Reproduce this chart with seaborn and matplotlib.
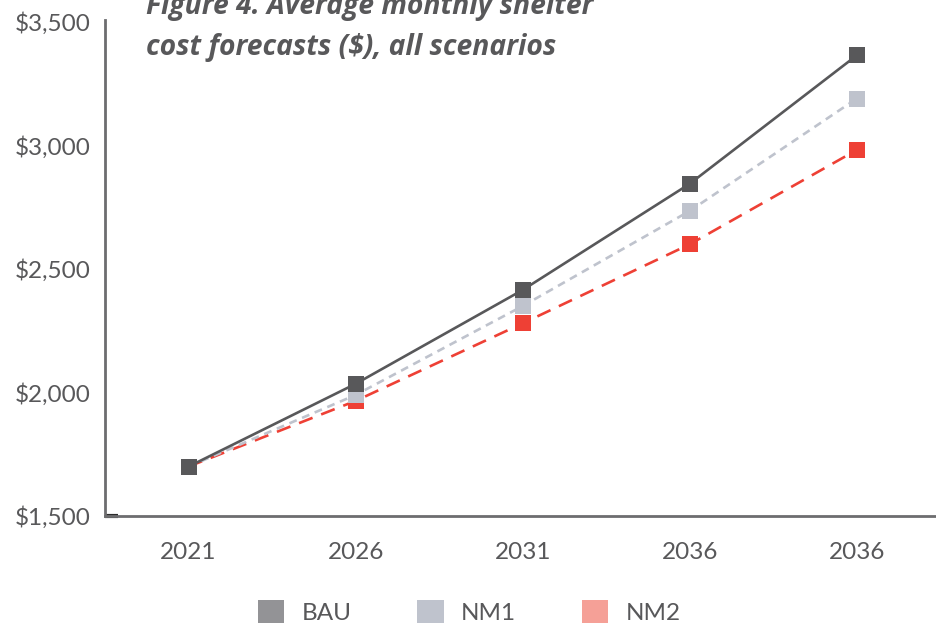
import matplotlib
matplotlib.use("Agg")
import matplotlib.pyplot as plt
from matplotlib.patches import Patch
import seaborn as sns
import pandas as pd

# Forecast years (the last label repeats as printed in the source figure)
years = ["2021", "2026", "2031", "2036", "2036"]
bau = [1700, 2035, 2415, 2845, 3365]
nm1 = [1700, 1990, 2350, 2735, 3190]
nm2 = [1700, 1966, 2280, 2600, 2982]
scenarios = ["BAU", "NM1", "NM2"]
y_ticks = [1500, 2000, 2500, 3000, 3500]
y_tick_labels = ["$1,500", "$2,000", "$2,500", "$3,000", "$3,500"]
title_lines = ["Figure 4. Average monthly shelter", "cost forecasts ($), all scenarios"]

line_colors = {"BAU": "#58585a", "NM1": "#bfc3cd", "NM2": "#ee4035"}
legend_colors = {"BAU": "#939396", "NM1": "#bfc3cd", "NM2": "#f5a097"}
text_color = "#58585a"

rows = []
for name, vals in zip(scenarios, [bau, nm1, nm2]):
    for i, v in enumerate(vals):
        rows.append({"pos": i, "cost": v, "scenario": name})
df = pd.DataFrame(rows)

sns.set_theme(style="white")
plt.rcParams["font.family"] = ["Lato", "DejaVu Sans"]

fig = plt.figure(figsize=(9.37, 6.26), dpi=100)
W, H = 937, 626
ax = fig.add_axes([105 / W, 1 - 516 / H, (W - 105) / W, (516 - 20) / H])

sns.lineplot(
    data=df, x="pos", y="cost", hue="scenario", style="scenario",
    hue_order=scenarios[::-1], style_order=scenarios[::-1],
    palette=line_colors,
    dashes={"BAU": "", "NM1": (3, 2.2), "NM2": (5.5, 3.5)},
    markers={"BAU": "s", "NM1": "s", "NM2": "s"},
    markersize=11.5, markeredgewidth=0, linewidth=1.9,
    legend=False, ax=ax,
)

ax.set_xlim(-0.5, 4.48)
ax.set_ylim(1500, 3508)
ax.set_xticks(range(len(years)))
ax.set_xticklabels(years)
ax.set_yticks(y_ticks)
ax.set_yticklabels(y_tick_labels)
ax.tick_params(axis="both", length=0, labelsize=17.5, colors=text_color)
ax.tick_params(axis="y", pad=10)
ax.tick_params(axis="x", pad=19)
ax.set_xlabel("")
ax.set_ylabel("")

for side in ["top", "right"]:
    ax.spines[side].set_visible(False)
for side in ["left", "bottom"]:
    ax.spines[side].set_color("#6d6d6f")
    ax.spines[side].set_linewidth(2)

# short dark stub at the origin
ax.plot([0, 13 / (W - 105)], [0, 0], transform=ax.transAxes,
        color="#2b2b2b", linewidth=3, clip_on=False, solid_capstyle="butt")

for k, line in enumerate(title_lines):
    fig.text(146 / W, 1 - (14 + 41 * k) / H, line,
             fontsize=20.3, fontweight="bold", fontstyle="italic", color=text_color,
             family=["Open Sans", "DejaVu Sans"], ha="left", va="baseline")

handles = [Patch(facecolor=legend_colors[s], edgecolor="none", label=s) for s in scenarios]
leg = fig.legend(handles=handles, loc="center", bbox_to_anchor=(469 / W, 1 - 612 / H),
                 ncol=3, frameon=False, fontsize=17.5, handlelength=1.1,
                 handleheight=1.1, handletextpad=0.7, columnspacing=2.7,
                 borderpad=0)
for t in leg.get_texts():
    t.set_color(text_color)

fig.savefig("out.png", dpi=100)
